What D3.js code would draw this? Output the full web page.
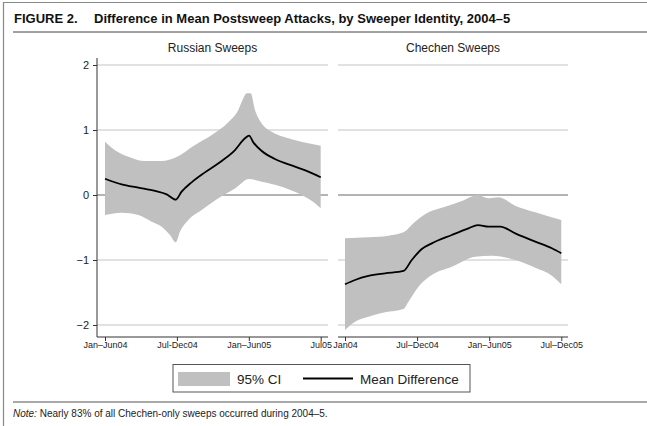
<!DOCTYPE html>
<html>
<head>
<meta charset="utf-8">
<script src="https://cdn.jsdelivr.net/npm/d3@7"></script>
<style>
  body { margin: 0; background: #fff; }
  svg { display: block; font-family: "Liberation Sans", Arial, Helvetica, sans-serif; }
</style>
</head>
<body>
<svg id="chart" width="647" height="426"></svg>
<script>
// Half-year periods on the x axis (0 = first half of 2004 ... 3 = second half of 2005)
const periods = [0, 1, 2, 3];
const russianTickLabels = ["Jan–Jun04", "Jul-Dec04", "Jan–Jun05", "Jul05"];
const chechenTickLabels = ["Jan04", "Jul–Dec04", "Jan–Jun05", "Jul–Dec05"];
const yTicks = [-2, -1, 0, 1, 2];

// Russian sweeps: [period, value]
const russianMean = [[0, 0.25], [0.232, 0.164], [0.464, 0.113], [0.695, 0.062], [0.858, 0.01], [0.983, -0.072],
  [1.066, 0.051], [1.205, 0.195], [1.39, 0.348], [1.623, 0.523], [1.808, 0.692], [1.947, 0.872], [2.003, 0.913],
  [2.063, 0.81], [2.18, 0.677], [2.364, 0.554], [2.643, 0.436], [2.828, 0.359], [3.0, 0.272]];
const russianUpper = [[0, 0.82], [0.139, 0.69], [0.325, 0.59], [0.556, 0.523], [0.788, 0.523], [0.974, 0.574],
  [1.252, 0.77], [1.484, 0.923], [1.715, 1.118], [1.854, 1.308], [1.924, 1.487], [1.97, 1.564], [2.026, 1.564],
  [2.086, 1.308], [2.18, 1.10], [2.318, 0.974], [2.55, 0.872], [2.828, 0.795], [3.0, 0.759]];
const russianLower = [[0, -0.308], [0.232, -0.272], [0.464, -0.308], [0.649, -0.41], [0.788, -0.487], [0.904, -0.615],
  [0.983, -0.728], [1.043, -0.564], [1.159, -0.385], [1.344, -0.23], [1.576, -0.05], [1.808, 0.10], [2.003, 0.246],
  [2.18, 0.205], [2.457, 0.128], [2.735, 0.0], [2.92, -0.128], [3.0, -0.205]];

// Chechen sweeps: [period, value]
const chechenMean = [[0, -1.374], [0.139, -1.308], [0.324, -1.246], [0.556, -1.205], [0.81, -1.169], [0.926, -1.0],
  [1.065, -0.831], [1.204, -0.744], [1.481, -0.615], [1.713, -0.513], [1.843, -0.462], [1.99, -0.487],
  [2.153, -0.487], [2.361, -0.59], [2.639, -0.718], [2.87, -0.82], [3.0, -0.897]];
const chechenUpper = [[0, -0.667], [0.324, -0.651], [0.602, -0.626], [0.81, -0.574], [0.972, -0.41], [1.157, -0.267],
  [1.389, -0.18], [1.62, -0.092], [1.843, 0.0], [1.99, -0.05], [2.13, -0.036], [2.361, -0.164], [2.639, -0.267],
  [3.0, -0.385]];
const chechenLower = [[0, -2.077], [0.139, -1.949], [0.324, -1.872], [0.556, -1.805], [0.81, -1.754], [0.88, -1.641],
  [1.018, -1.41], [1.204, -1.23], [1.481, -1.103], [1.806, -0.949], [2.037, -0.933], [2.361, -1.0], [2.639, -1.118],
  [2.87, -1.241], [3.0, -1.374]];

const svg = d3.select("#chart");
const ciFill = "#c0c0c0";

// Frame, title and rules
svg.append("path").attr("d", "M3.5,426V2.5H647").attr("fill", "none").attr("stroke", "#888").attr("stroke-width", 1.2);
const title = svg.append("text").attr("y", 23).attr("font-size", 13).attr("font-weight", "bold").attr("fill", "#111");
title.append("tspan").attr("x", 14).text("FIGURE 2.");
title.append("tspan").attr("x", 94).text("Difference in Mean Postsweep Attacks, by Sweeper Identity, 2004–5");
svg.append("line").attr("x1", 13).attr("x2", 647).attr("y1", 32).attr("y2", 32).attr("stroke", "#444").attr("stroke-width", 1);

const y = d3.scaleLinear().domain([-2, 2]).range([325, 65]);
const plotTop = 58, plotBottom = 337;

const panels = [
  { title: "Russian Sweeps", left: 97, right: 328, range: [105, 320.7], labels: russianTickLabels,
    mean: russianMean, upper: russianUpper, lower: russianLower, yAxis: true },
  { title: "Chechen Sweeps", left: 338, right: 568, range: [345, 561.3], labels: chechenTickLabels,
    mean: chechenMean, upper: chechenUpper, lower: chechenLower, yAxis: false }
];

panels.forEach(p => {
  const x = d3.scaleLinear().domain([0, 3]).range(p.range);
  const g = svg.append("g");

  g.append("text").attr("x", (p.left + p.right) / 2).attr("y", 52).attr("text-anchor", "middle")
    .attr("font-size", 12).attr("fill", "#222").text(p.title);

  // horizontal grid lines, zero reference darker
  g.selectAll("line.grid").data(yTicks).join("line").attr("class", "grid")
    .attr("x1", p.left).attr("x2", p.right).attr("y1", d => y(d)).attr("y2", d => y(d))
    .attr("stroke", d => d === 0 ? "#6a6a6a" : "#c4c4c4").attr("stroke-width", d => d === 0 ? 1.1 : 1);

  // confidence band
  const edge = d3.line().x(d => x(d[0])).y(d => y(d[1])).curve(d3.curveMonotoneX);
  const bandPath = edge(p.upper) + edge(p.lower.slice().reverse()).replace(/^M/, "L") + "Z";
  g.append("path").attr("d", bandPath).attr("fill", ciFill).attr("stroke", "none");

  // mean difference
  g.append("path").attr("d", edge(p.mean)).attr("fill", "none").attr("stroke", "#000").attr("stroke-width", 1.8);

  // x axis
  const xAxis = d3.axisBottom(x).tickValues(periods).tickFormat((d, i) => p.labels[i]).tickSize(4).tickPadding(1);
  const xg = g.append("g").attr("transform", `translate(0,${plotBottom})`).call(xAxis);
  xg.select(".domain").remove();
  xg.append("line").attr("x1", p.left).attr("x2", p.right).attr("stroke", "#333");
  xg.selectAll(".tick line").attr("stroke", "#333");
  xg.selectAll(".tick text").attr("font-size", 9).attr("fill", "#222").attr("font-family", "Liberation Sans, Arial, sans-serif");

  if (p.yAxis) {
    const yAxis = d3.axisLeft(y).tickValues(yTicks).tickFormat(d3.format("d")).tickSize(4).tickPadding(4);
    const yg = g.append("g").attr("transform", `translate(${p.left},0)`).call(yAxis);
    yg.select(".domain").remove();
    yg.append("line").attr("y1", plotTop).attr("y2", plotBottom).attr("stroke", "#333");
    yg.selectAll(".tick line").attr("stroke", "#333");
    yg.selectAll(".tick text").attr("font-size", 11).attr("fill", "#222").attr("font-family", "Liberation Sans, Arial, sans-serif");
  }
});

// Legend
const lg = svg.append("g");
lg.append("rect").attr("x", 173).attr("y", 364.5).attr("width", 297).attr("height", 27.5)
  .attr("fill", "#fff").attr("stroke", "#555").attr("stroke-width", 1);
lg.append("rect").attr("x", 178).attr("y", 372).attr("width", 52).attr("height", 14).attr("fill", ciFill);
lg.append("text").attr("x", 237).attr("y", 384).attr("font-size", 13.5).attr("fill", "#222").text("95% CI");
lg.append("line").attr("x1", 303).attr("x2", 353).attr("y1", 378.5).attr("y2", 378.5).attr("stroke", "#000").attr("stroke-width", 2);
lg.append("text").attr("x", 360).attr("y", 384).attr("font-size", 13.5).attr("fill", "#222").text("Mean Difference");

// Note
svg.append("line").attr("x1", 13).attr("x2", 647).attr("y1", 402).attr("y2", 402).attr("stroke", "#555").attr("stroke-width", 1);
const note = svg.append("text").attr("x", 13).attr("y", 417).attr("font-size", 10).attr("fill", "#222");
note.append("tspan").attr("font-style", "italic").text("Note:");
note.append("tspan").text(" Nearly 83% of all Chechen-only sweeps occurred during 2004–5.");
</script>
</body>
</html>
